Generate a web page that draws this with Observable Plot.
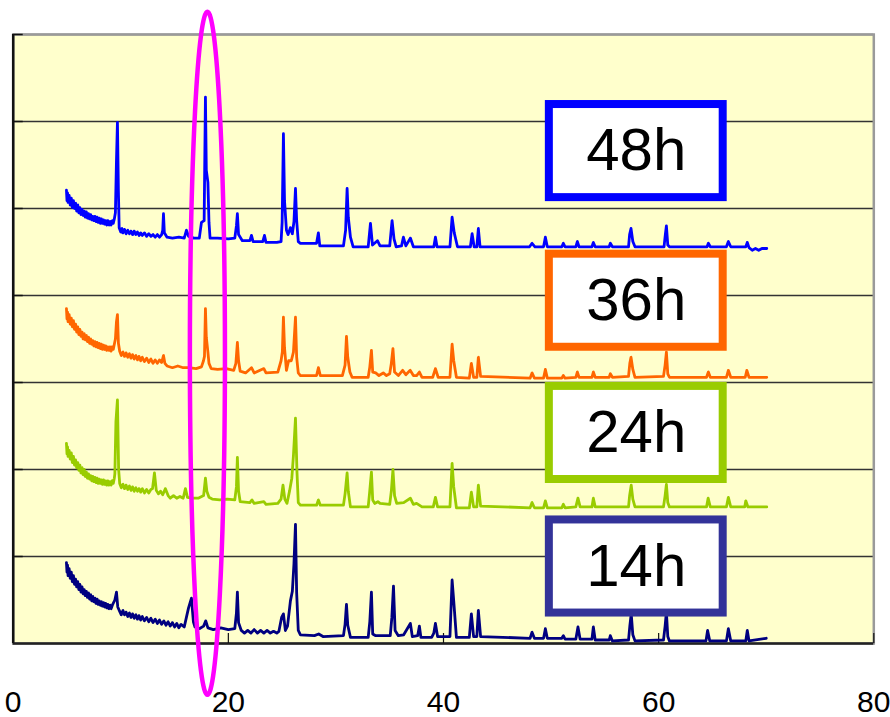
<!DOCTYPE html>
<html><head><meta charset="utf-8">
<script src="https://cdn.jsdelivr.net/npm/d3@7"></script>
<script src="https://cdn.jsdelivr.net/npm/@observablehq/plot@0.6"></script>
<style>html,body{margin:0;padding:0;background:#fff;} #chart svg{display:block;}</style>
</head><body><div id="chart"></div>
<script>
// XRD patterns (2θ in degrees, intensity in grid units, stacked)
const h48 = [[4.95,5.21],[5.0,5.09],[5.05,5.18],[5.1,5.07],[5.2,5.15],[5.3,5.04],[5.4,5.12],[5.5,5.01],[5.6,5.09],[5.7,5.00],[5.8,5.06],[5.9,4.97],[6.0,5.04],[6.1,4.95],[6.2,5.01],[6.3,4.93],[6.4,4.99],[6.5,4.92],[6.6,4.97],[6.7,4.90],[6.8,4.96],[6.9,4.89],[7.0,4.94],[7.1,4.88],[7.2,4.93],[7.3,4.87],[7.4,4.91],[7.5,4.86],[7.6,4.91],[7.7,4.85],[7.8,4.90],[7.9,4.84],[8.0,4.89],[8.1,4.83],[8.2,4.88],[8.3,4.83],[8.4,4.87],[8.5,4.82],[8.6,4.86],[8.7,4.81],[8.8,4.86],[8.9,4.81],[9.0,4.85],[9.1,4.81],[9.2,4.86],[9.3,4.83],[9.4,4.88],[9.5,4.95],[9.6,5.55],[9.69,5.99],[9.78,5.2],[9.85,4.78],[10.0,4.73],[10.1,4.77],[10.2,4.72],[10.35,4.76],[10.5,4.71],[10.65,4.75],[10.8,4.71],[10.95,4.74],[11.1,4.70],[11.25,4.74],[11.4,4.70],[11.55,4.73],[11.7,4.69],[11.85,4.72],[12.0,4.69],[12.2,4.72],[12.4,4.68],[12.6,4.71],[12.8,4.68],[13.0,4.70],[13.2,4.67],[13.4,4.70],[13.6,4.67],[13.8,4.70],[13.9,4.75],[13.97,4.94],[14.05,4.72],[14.3,4.67],[14.8,4.66],[15.4,4.67],[15.9,4.66],[16.1,4.75],[16.3,4.68],[16.8,4.66],[17.3,4.66],[17.5,4.84],[17.75,4.86],[17.87,6.28],[17.95,5.44],[18.1,5.3],[18.2,4.84],[18.3,4.66],[19.0,4.66],[20.0,4.65],[20.6,4.66],[20.75,4.80],[20.84,4.94],[20.95,4.70],[21.3,4.63],[22.0,4.63],[22.15,4.69],[22.3,4.62],[23.2,4.62],[23.36,4.69],[23.5,4.61],[24.5,4.61],[24.9,4.62],[25.0,4.84],[25.12,5.86],[25.22,5.09],[25.4,4.75],[25.55,4.70],[25.77,4.78],[25.95,4.71],[26.1,4.85],[26.24,5.23],[26.35,4.86],[26.5,4.62],[26.7,4.60],[28.2,4.60],[28.37,4.72],[28.5,4.57],[30.7,4.57],[30.9,4.75],[31.04,5.23],[31.15,4.90],[31.35,4.67],[31.6,4.56],[33.0,4.56],[33.21,4.83],[33.4,4.58],[33.86,4.63],[34.1,4.57],[35.0,4.57],[35.22,4.86],[35.4,4.65],[35.6,4.56],[36.1,4.57],[36.27,4.67],[36.5,4.57],[36.92,4.66],[37.2,4.56],[39.1,4.56],[39.25,4.67],[39.4,4.56],[40.6,4.56],[40.8,4.90],[41.0,4.72],[41.3,4.56],[42.5,4.56],[42.66,4.71],[42.85,4.56],[43.1,4.56],[43.24,4.77],[43.4,4.56],[48.0,4.56],[48.23,4.60],[48.5,4.56],[49.3,4.56],[49.47,4.67],[49.65,4.56],[51.0,4.56],[51.14,4.60],[51.3,4.56],[52.3,4.56],[52.44,4.62],[52.6,4.56],[53.8,4.56],[53.93,4.61],[54.1,4.56],[55.4,4.56],[55.51,4.60],[55.7,4.56],[57.2,4.56],[57.3,4.70],[57.43,4.77],[57.6,4.62],[57.8,4.56],[60.5,4.56],[60.62,4.70],[60.72,4.80],[60.85,4.58],[61.0,4.56],[64.5,4.56],[64.62,4.60],[64.8,4.56],[66.3,4.56],[66.48,4.62],[66.7,4.56],[68.1,4.56],[68.24,4.61],[68.4,4.55],[68.7,4.52],[69.0,4.54],[69.3,4.52],[69.6,4.54],[70.05,4.54]];

const h36 = [[4.95,3.85],[5.0,3.73],[5.05,3.81],[5.1,3.70],[5.2,3.78],[5.3,3.67],[5.4,3.74],[5.5,3.64],[5.6,3.71],[5.7,3.61],[5.8,3.67],[5.9,3.58],[6.0,3.64],[6.1,3.55],[6.2,3.61],[6.3,3.53],[6.4,3.58],[6.5,3.50],[6.6,3.56],[6.7,3.49],[6.8,3.54],[6.9,3.47],[7.0,3.52],[7.1,3.45],[7.2,3.50],[7.3,3.44],[7.4,3.48],[7.5,3.42],[7.6,3.47],[7.7,3.41],[7.8,3.46],[7.9,3.40],[8.0,3.45],[8.1,3.39],[8.2,3.44],[8.3,3.38],[8.4,3.43],[8.5,3.38],[8.6,3.42],[8.7,3.37],[8.8,3.41],[8.9,3.37],[9.0,3.41],[9.1,3.36],[9.2,3.41],[9.3,3.38],[9.4,3.44],[9.5,3.50],[9.6,3.70],[9.69,3.78],[9.78,3.45],[9.9,3.36],[10.05,3.31],[10.2,3.35],[10.35,3.30],[10.5,3.34],[10.65,3.29],[10.8,3.33],[10.95,3.28],[11.1,3.32],[11.25,3.27],[11.4,3.31],[11.55,3.26],[11.7,3.30],[11.85,3.25],[12.0,3.29],[12.2,3.24],[12.4,3.28],[12.6,3.23],[12.8,3.27],[13.0,3.22],[13.2,3.26],[13.4,3.22],[13.6,3.26],[13.8,3.23],[13.97,3.31],[14.1,3.22],[14.3,3.19],[14.8,3.17],[15.3,3.19],[15.8,3.17],[16.3,3.17],[17.0,3.16],[17.5,3.18],[17.69,3.25],[17.78,3.30],[17.87,3.85],[17.95,3.52],[18.1,3.35],[18.2,3.22],[18.4,3.16],[19.0,3.15],[19.8,3.16],[20.5,3.14],[20.7,3.22],[20.84,3.46],[20.95,3.25],[21.1,3.13],[21.6,3.11],[22.15,3.17],[22.4,3.11],[23.3,3.16],[23.5,3.11],[24.6,3.12],[24.9,3.25],[25.02,3.35],[25.12,3.75],[25.22,3.40],[25.4,3.14],[25.6,3.25],[25.85,3.25],[26.05,3.35],[26.24,3.75],[26.35,3.29],[26.5,3.11],[26.7,3.08],[28.2,3.08],[28.37,3.17],[28.55,3.08],[30.6,3.08],[30.85,3.20],[30.98,3.53],[31.1,3.29],[31.3,3.12],[31.5,3.06],[33.0,3.06],[33.15,3.18],[33.3,3.37],[33.42,3.12],[33.7,3.11],[34.0,3.08],[34.4,3.11],[34.7,3.08],[35.0,3.10],[35.15,3.22],[35.3,3.39],[35.45,3.12],[35.8,3.08],[36.2,3.14],[36.5,3.09],[36.9,3.14],[37.2,3.08],[37.5,3.08],[37.76,3.12],[38.0,3.06],[39.0,3.06],[39.25,3.16],[39.5,3.06],[40.6,3.06],[40.8,3.44],[40.95,3.25],[41.2,3.06],[42.4,3.05],[42.59,3.22],[42.8,3.06],[43.1,3.06],[43.24,3.29],[43.45,3.07],[48.05,3.05],[48.23,3.11],[48.45,3.05],[49.3,3.05],[49.47,3.15],[49.65,3.05],[51.0,3.05],[51.14,3.08],[51.3,3.05],[52.3,3.06],[52.44,3.12],[52.6,3.06],[53.8,3.06],[53.93,3.12],[54.1,3.06],[55.4,3.06],[55.51,3.10],[55.7,3.06],[57.2,3.07],[57.32,3.22],[57.43,3.29],[57.6,3.15],[57.8,3.06],[60.45,3.07],[60.6,3.20],[60.72,3.35],[60.85,3.10],[61.0,3.06],[64.45,3.06],[64.62,3.12],[64.8,3.06],[66.3,3.06],[66.48,3.14],[66.7,3.06],[68.05,3.06],[68.2,3.14],[68.4,3.06],[70.05,3.06]];

const h24 = [[4.95,2.30],[5.0,2.18],[5.05,2.26],[5.1,2.15],[5.2,2.22],[5.3,2.12],[5.4,2.19],[5.5,2.08],[5.6,2.15],[5.7,2.05],[5.8,2.11],[5.9,2.02],[6.0,2.08],[6.1,1.99],[6.2,2.05],[6.3,1.96],[6.4,2.02],[6.5,1.94],[6.6,2.00],[6.7,1.92],[6.8,1.97],[6.9,1.90],[7.0,1.95],[7.1,1.89],[7.2,1.93],[7.3,1.87],[7.4,1.92],[7.5,1.86],[7.6,1.91],[7.7,1.85],[7.8,1.90],[7.9,1.84],[8.0,1.89],[8.1,1.84],[8.2,1.88],[8.3,1.83],[8.4,1.88],[8.5,1.83],[8.6,1.87],[8.7,1.82],[8.8,1.87],[8.9,1.82],[9.0,1.86],[9.1,1.82],[9.2,1.87],[9.3,1.84],[9.4,1.90],[9.45,1.95],[9.55,2.55],[9.69,2.80],[9.8,2.0],[9.9,1.84],[10.05,1.79],[10.2,1.83],[10.35,1.78],[10.5,1.82],[10.65,1.77],[10.8,1.81],[10.95,1.76],[11.1,1.80],[11.25,1.75],[11.4,1.79],[11.55,1.75],[11.7,1.78],[11.85,1.74],[12.0,1.78],[12.2,1.73],[12.4,1.77],[12.6,1.73],[12.8,1.77],[12.95,1.78],[13.13,1.96],[13.3,1.76],[13.5,1.72],[13.7,1.75],[13.9,1.71],[14.15,1.78],[14.4,1.70],[14.6,1.67],[14.9,1.70],[15.2,1.67],[15.5,1.69],[15.8,1.67],[16.01,1.78],[16.2,1.68],[16.6,1.67],[17.2,1.67],[17.7,1.70],[17.87,1.90],[18.0,1.75],[18.2,1.68],[18.5,1.66],[19.2,1.65],[19.9,1.66],[20.6,1.65],[20.75,1.80],[20.84,2.14],[20.95,1.75],[21.1,1.63],[22.0,1.62],[22.2,1.65],[22.4,1.61],[23.3,1.63],[23.5,1.60],[24.6,1.61],[24.9,1.66],[25.08,1.82],[25.25,1.66],[25.45,1.61],[25.7,1.76],[25.9,1.90],[26.05,2.16],[26.24,2.59],[26.38,1.97],[26.5,1.62],[26.7,1.59],[28.2,1.59],[28.37,1.65],[28.55,1.59],[30.7,1.59],[30.85,1.72],[31.04,1.96],[31.15,1.75],[31.35,1.57],[33.0,1.57],[33.12,1.72],[33.3,1.97],[33.42,1.65],[33.6,1.61],[33.9,1.63],[34.1,1.61],[35.0,1.60],[35.15,1.75],[35.3,2.00],[35.45,1.70],[35.65,1.61],[36.3,1.62],[36.92,1.67],[37.2,1.60],[37.5,1.61],[38.0,1.57],[39.05,1.57],[39.25,1.68],[39.45,1.57],[40.6,1.57],[40.8,2.07],[40.95,1.80],[41.2,1.56],[42.4,1.56],[42.59,1.74],[42.8,1.57],[43.1,1.57],[43.24,1.82],[43.45,1.58],[48.05,1.56],[48.23,1.62],[48.45,1.56],[49.3,1.56],[49.47,1.64],[49.65,1.56],[51.0,1.56],[51.14,1.60],[51.3,1.56],[52.3,1.57],[52.5,1.67],[52.7,1.57],[53.8,1.57],[53.93,1.67],[54.1,1.57],[57.2,1.57],[57.3,1.70],[57.45,1.82],[57.6,1.66],[57.8,1.57],[60.45,1.57],[60.6,1.70],[60.72,1.83],[60.85,1.62],[61.0,1.57],[64.45,1.57],[64.6,1.67],[64.8,1.57],[66.3,1.57],[66.48,1.68],[66.7,1.57],[68.0,1.57],[68.1,1.64],[68.3,1.57],[70.05,1.57]];

const h14 = [[4.95,0.93],[5.0,0.82],[5.05,0.90],[5.1,0.78],[5.2,0.86],[5.3,0.75],[5.4,0.82],[5.5,0.71],[5.6,0.78],[5.7,0.68],[5.8,0.74],[5.9,0.65],[6.0,0.71],[6.1,0.62],[6.2,0.68],[6.3,0.59],[6.4,0.65],[6.5,0.57],[6.6,0.62],[6.7,0.55],[6.8,0.60],[6.9,0.53],[7.0,0.58],[7.1,0.51],[7.2,0.56],[7.3,0.49],[7.4,0.54],[7.5,0.48],[7.6,0.52],[7.7,0.46],[7.8,0.51],[7.9,0.45],[8.0,0.49],[8.1,0.44],[8.2,0.48],[8.3,0.43],[8.4,0.47],[8.5,0.42],[8.6,0.46],[8.7,0.41],[8.8,0.45],[8.9,0.40],[9.0,0.44],[9.1,0.40],[9.25,0.45],[9.45,0.50],[9.6,0.59],[9.72,0.42],[9.9,0.37],[10.05,0.33],[10.2,0.38],[10.35,0.33],[10.5,0.36],[10.65,0.31],[10.8,0.35],[10.95,0.30],[11.1,0.34],[11.25,0.29],[11.4,0.33],[11.55,0.28],[11.7,0.32],[11.85,0.27],[12.0,0.31],[12.2,0.26],[12.4,0.30],[12.6,0.25],[12.8,0.29],[13.0,0.24],[13.2,0.28],[13.4,0.23],[13.6,0.27],[13.8,0.22],[14.0,0.26],[14.2,0.21],[14.4,0.25],[14.6,0.20],[14.8,0.24],[15.0,0.19],[15.2,0.23],[15.4,0.18],[15.6,0.22],[15.9,0.19],[16.1,0.30],[16.3,0.41],[16.57,0.52],[16.75,0.25],[16.9,0.19],[17.3,0.17],[17.7,0.20],[17.9,0.26],[18.1,0.18],[18.6,0.16],[19.3,0.18],[20.0,0.16],[20.6,0.17],[20.75,0.35],[20.84,0.59],[20.95,0.24],[21.2,0.15],[21.5,0.12],[21.8,0.15],[22.1,0.12],[22.4,0.16],[22.7,0.12],[23.0,0.15],[23.3,0.12],[23.6,0.15],[23.9,0.12],[24.2,0.14],[24.5,0.12],[24.7,0.14],[24.95,0.30],[25.12,0.34],[25.3,0.15],[25.5,0.20],[25.77,0.49],[25.95,0.60],[26.1,0.92],[26.24,1.37],[26.35,0.58],[26.5,0.15],[26.7,0.10],[28.0,0.09],[28.4,0.11],[28.8,0.08],[30.7,0.09],[30.85,0.22],[30.98,0.45],[31.1,0.21],[31.35,0.07],[33.0,0.07],[33.15,0.25],[33.3,0.59],[33.42,0.11],[33.7,0.09],[34.1,0.09],[35.05,0.09],[35.2,0.30],[35.35,0.66],[35.5,0.15],[35.8,0.09],[36.3,0.10],[36.92,0.23],[37.1,0.08],[37.6,0.09],[37.76,0.20],[37.9,0.07],[38.9,0.07],[39.1,0.12],[39.25,0.23],[39.45,0.08],[40.6,0.08],[40.8,0.73],[40.95,0.49],[41.2,0.07],[42.4,0.07],[42.59,0.34],[42.8,0.08],[43.1,0.08],[43.24,0.38],[43.45,0.08],[48.05,0.06],[48.23,0.13],[48.45,0.06],[49.3,0.06],[49.47,0.17],[49.65,0.06],[51.0,0.06],[51.14,0.09],[51.3,0.05],[52.3,0.05],[52.5,0.19],[52.7,0.05],[53.8,0.05],[53.93,0.19],[54.1,0.04],[55.4,0.04],[55.51,0.09],[55.7,0.03],[57.2,0.04],[57.32,0.20],[57.45,0.34],[57.6,0.10],[57.8,0.03],[60.45,0.04],[60.6,0.20],[60.72,0.36],[60.85,0.08],[61.0,0.03],[64.4,0.03],[64.55,0.15],[64.75,0.03],[66.3,0.03],[66.48,0.17],[66.7,0.03],[68.1,0.03],[68.24,0.15],[68.4,0.03],[70.0,0.06]];

const seriesNames = ["48h", "36h", "24h", "14h"];
const lineColors = ["#0000FF", "#FF6600", "#99CC00", "#000080"];
const boxColors = ["#0000FF", "#FF6600", "#99CC00", "#333399"];
const labelCenterY = [5.66, 3.94, 2.42, 0.885];
const labelHalfHeight = 0.535;
const labelX = [49.84, 66.0];
const xTicks = [0, 20, 40, 60, 80];
const gridLevels = [1, 2, 3, 4, 5, 6, 7];
const highlightCenter = [18.1, 3.33];
const highlightRadii = [1.63, 3.925];

const allSeries = [h48, h36, h24, h14];
const rows = [];
allSeries.forEach((arr, i) => arr.forEach(([x, y]) => rows.push({x, y, series: seriesNames[i], color: lineColors[i]})));
rows.reverse();
const boxes = seriesNames.map((s, i) => ({
  label: s, color: boxColors[i],
  x1: labelX[0], x2: labelX[1], xc: (labelX[0] + labelX[1]) / 2,
  y1: labelCenterY[i] - labelHalfHeight, y2: labelCenterY[i] + labelHalfHeight, yc: labelCenterY[i]
}));

const font = "'Liberation Sans', Arial, Helvetica, sans-serif";

const chart = Plot.plot({
  width: 890, height: 717,
  marginLeft: 12.7, marginRight: 16.7, marginTop: 34, marginBottom: 74,
  style: {fontFamily: font, background: "white", color: "black", overflow: "visible"},
  x: {domain: [0, 80], axis: null},
  y: {domain: [0, 7], axis: null},
  color: {type: "identity"},
  marks: [
    Plot.frame({fill: "#FFFFCC", stroke: null}),
    Plot.gridY(gridLevels, {stroke: "#333", strokeOpacity: 1, strokeWidth: 1.3}),
    Plot.frame({stroke: "#9a9a9a", strokeWidth: 2.5}),
    Plot.ruleX([0], {stroke: "#111", strokeWidth: 2.5}),
    Plot.ruleY([0], {stroke: "#222", strokeWidth: 2.5}),
    Plot.axisY(gridLevels, {tickSize: 10, dx: 10, tickFormat: () => "", label: null, stroke: "#111", strokeWidth: 1.5}),
    Plot.axisX(xTicks, {tickSize: 10, dy: -10, tickFormat: () => "", label: null, stroke: "#111", strokeWidth: 1.2}),
    Plot.axisX(xTicks, {tickSize: 0, tickPadding: 47, fontSize: 30, label: null, fill: "black", tickFormat: d => String(d)}),
    Plot.line(rows, {x: "x", y: "y", z: "series", stroke: "color", strokeWidth: 2.8, strokeLinejoin: "round", strokeLinecap: "round"}),
    Plot.rect(boxes, {x1: "x1", x2: "x2", y1: "y1", y2: "y2", fill: "white", stroke: "color", strokeWidth: 8}),
    Plot.text(boxes, {x: "xc", y: "yc", text: "label", fontSize: 60, fill: "black", lineAnchor: "middle"}),
    (index, scales) => {
      const cx = scales.x(highlightCenter[0]);
      const cy = scales.y(highlightCenter[1]);
      const rx = Math.abs(scales.x(highlightCenter[0] + highlightRadii[0]) - cx);
      const ry = Math.abs(scales.y(highlightCenter[1] + highlightRadii[1]) - cy);
      return d3.create("svg:ellipse")
        .attr("cx", cx).attr("cy", cy).attr("rx", rx).attr("ry", ry)
        .attr("fill", "none").attr("stroke", "#FF00FF").attr("stroke-width", 4.5)
        .node();
    }
  ]
});
document.getElementById("chart").appendChild(chart);
</script>
</body></html>
